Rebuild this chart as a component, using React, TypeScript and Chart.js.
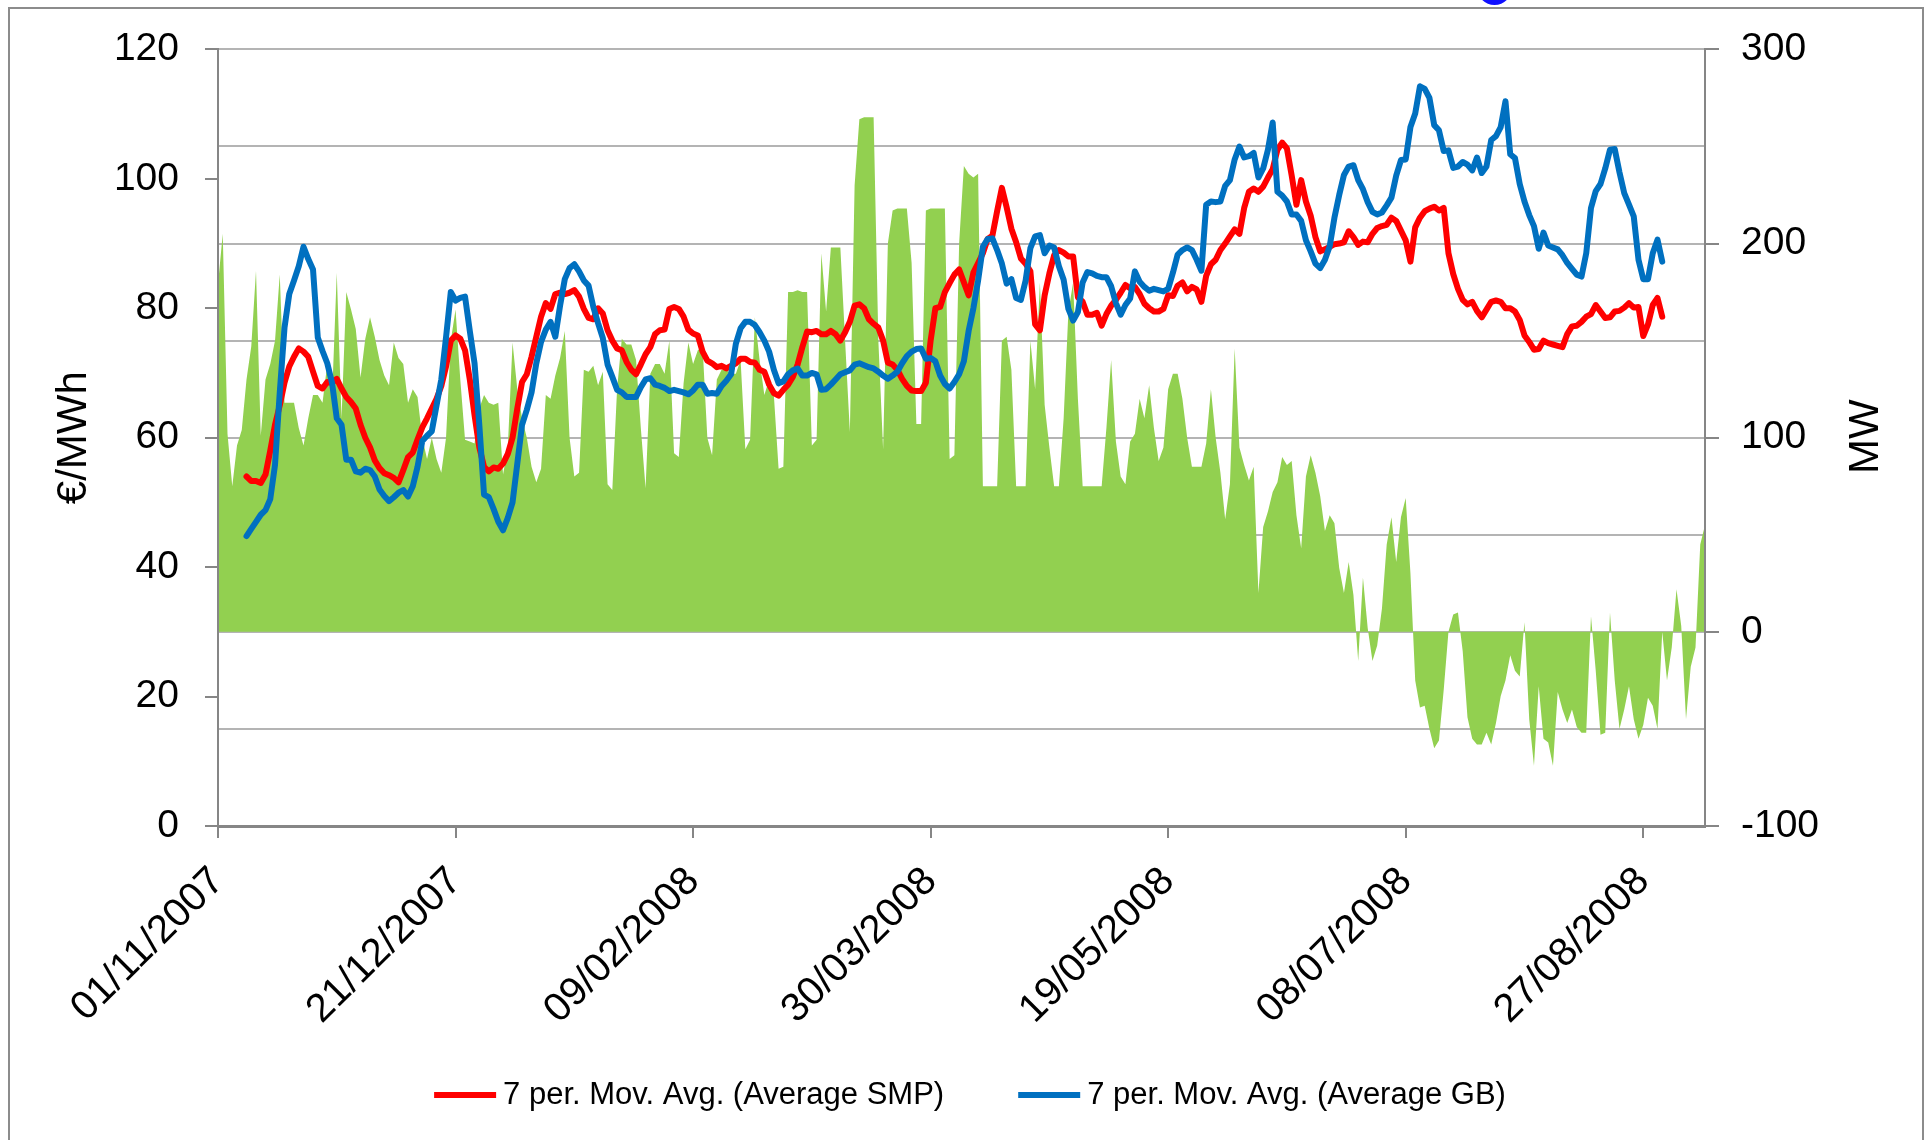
import { useEffect, useRef } from 'react';
import { Chart, registerables } from 'chart.js';

Chart.register(...registerables);

// ---------- data ----------
const startDateUTC = Date.UTC(2007, 10, 1); // 01/11/2007 = day 0
const xTickDays = [0, 50, 100, 150, 200, 250, 300];
const xTickLabels = ['01/11/2007', '21/12/2007', '09/02/2008', '30/03/2008', '19/05/2008', '08/07/2008', '27/08/2008'];
const lastDay = 313;
const lineStartDay = 6;

const leftAxisTitle = '€/MWh';
const rightAxisTitle = 'MW';
const smpLabel = '7 per. Mov. Avg. (Average SMP)';
const gbLabel = '7 per. Mov. Avg. (Average GB)';

// daily interconnector flow, MW (day 0 .. 313)
const flowMW = [
  179, 205, 102, 75, 96, 104, 130, 147, 186, 101, 130, 138, 150, 184, 118, 118, 118, 105, 96, 110,
  122, 122, 118, 138, 120, 185, 110, 175, 166, 156, 131, 151, 162, 152, 140, 132, 127, 149, 141, 138,
  118, 125, 121, 100, 89, 100, 89, 82, 100, 150, 166, 130, 99, 98, 97, 115, 122, 118, 117, 118,
  81, 95, 149, 125, 110, 100, 85, 77, 84, 122, 120, 132, 141, 155, 100, 80, 82, 135, 134, 137,
  127, 134, 76, 73, 125, 151, 148, 148, 140, 105, 74, 133, 138, 138, 133, 150, 92, 90, 128, 149,
  138, 145, 147, 100, 91, 130, 135, 135, 133, 133, 140, 94, 99, 162, 140, 122, 130, 122, 84, 85,
  175, 175, 176, 175, 175, 96, 99, 195, 165, 198, 198, 198, 150, 103, 230, 264, 265, 265, 265, 150,
  94, 200, 217, 218, 218, 218, 190, 107, 107, 217, 218, 218, 218, 218, 89, 91, 200, 240, 236, 234,
  236, 75, 75, 75, 75, 150, 152, 135, 75, 75, 75, 150, 125, 180, 117, 95, 75, 75, 110, 165,
  180, 120, 75, 75, 75, 75, 75, 105, 140, 98, 80, 76, 98, 102, 120, 110, 127, 105, 88, 95,
  125, 133, 133, 120, 100, 85, 85, 85, 97, 125, 100, 82, 58, 76, 146, 95, 86, 78, 85, 20,
  54, 62, 72, 77, 90, 86, 88, 60, 43, 80, 91, 82, 70, 52, 60, 56, 33, 20, 36, 19,
  -15, 28, 2, -15, -7, 12, 45, 59, 36, 59, 69, 30, -25, -39, -38, -50, -60, -56, -30, 0,
  9, 10, -10, -44, -55, -58, -58, -52, -58, -47, -33, -25, -12, -20, -23, 5, -45, -69, -28, -55,
  -57, -69, -31, -40, -47, -40, -49, -52, -52, 8, -20, -53, -52, 10, -25, -50, -40, -28, -45, -55,
  -48, -34, -38, -50, 0, -25, -8, 22, 3, -45, -18, -8, 45, 55,
];

// 7 per. moving average of SMP, €/MWh (day 6 .. 304)
const smpAvg = [
  54, 53.3, 53.3, 53, 54.3, 58, 62, 65, 68.5, 71, 72.5, 73.8, 73.3, 72.5, 70.2, 68, 67.6, 68.6, 68.5, 69.1,
  67.6, 66.3, 65.5, 64.5, 62, 60, 58.5, 56.5, 55.3, 54.5, 54.2, 53.8, 53.1, 55, 57, 57.7, 59.7, 61.6, 63, 64.5,
  66, 68, 71, 75, 75.8, 75.3, 73.5, 69, 63.5, 58.5, 55.5, 54.8, 55.4, 55.2, 56, 57.5, 60, 64.5, 68.6, 69.8,
  72.5, 75.6, 78.7, 80.8, 79.9, 82.2, 82.4, 82.2, 82.4, 82.8, 81.8, 79.9, 78.5, 78.3, 80, 79.2, 76.6, 75, 73.8, 73.5,
  71.7, 70.5, 69.8, 71.3, 72.9, 74, 76, 76.6, 76.7, 79.9, 80.2, 79.9, 78.7, 76.7, 76.1, 75.8, 73.3, 71.9, 71.5, 70.9,
  71.1, 70.7, 71.1, 71.5, 72.2, 72.2, 71.7, 71.6, 70.5, 70.2, 68.2, 66.9, 66.5, 67.4, 68.2, 69.4, 71.3, 74, 76.4, 76.3,
  76.5, 76, 76, 76.5, 76, 75, 76.3, 77.9, 80.4, 80.6, 80, 78.3, 77.6, 77, 75, 71.6, 71.3, 70.5, 69.1, 68,
  67.3, 67.2, 67.2, 68.5, 75, 80, 80.2, 82.5, 83.9, 85.2, 86, 84, 82, 85.5, 87, 88.5, 90.7, 91.2, 95, 98.6,
  95.6, 92.3, 90.2, 87.7, 86.9, 85.7, 77.5, 76.6, 82, 85.4, 88.2, 89, 88.6, 88, 88, 81.7, 81, 79, 79, 79.3,
  77.3, 79.1, 80.4, 81.3, 82.4, 83.6, 83.1, 83.3, 82.2, 80.7, 80, 79.5, 79.5, 79.9, 82, 81.9, 83.5, 84, 82.6, 83.3,
  82.9, 81, 85, 86.8, 87.5, 89, 90, 91.1, 92.2, 91.5, 95.5, 98, 98.5, 98, 98.8, 100.2, 101.5, 104.5, 105.6, 104.7,
  100.5, 96, 99.8, 96.5, 94.3, 91, 88.8, 89.1, 89.5, 89.9, 90, 90.2, 91.9, 91, 89.8, 90.3, 90.2, 91.5, 92.4, 92.7,
  92.9, 94, 93.5, 92, 90.5, 87.2, 92.5, 94, 95, 95.4, 95.7, 95.1, 95.5, 88.5, 85.3, 83, 81.3, 80.6, 81, 79.6,
  78.6, 79.8, 81, 81.2, 81, 80, 80, 79.5, 78.2, 75.8, 74.8, 73.6, 73.7, 75, 74.6, 74.4, 74.2, 74, 76, 77.2,
  77.3, 77.9, 78.7, 79.1, 80.5, 79.5, 78.5, 78.6, 79.5, 79.6, 80.1, 80.8, 80.1, 80.2, 75.7, 77.5, 80.5, 81.6, 78.7,
];

// 7 per. moving average of GB price, €/MWh (day 6 .. 304)
const gbAvg = [
  44.8, 45.9, 47, 48.1, 48.8, 50.5, 55.8, 67, 77, 82.2, 84.3, 86.5, 89.5, 87.6, 86, 75.5, 73.4, 71.5, 68.5, 63,
  62, 56.6, 56.6, 54.8, 54.6, 55.2, 55, 54, 52, 51, 50.2, 50.8, 51.5, 51.9, 50.9, 52.5, 55.5, 59.5, 60.3, 61,
  65, 69, 75.5, 82.5, 81.2, 81.6, 81.8, 76.5, 71.5, 62, 51.2, 50.8, 49, 47, 45.7, 47.6, 50, 56, 62, 64.3,
  67, 71.5, 74.8, 76.7, 77.9, 75.6, 80.4, 84.5, 86.2, 86.8, 85.7, 84.3, 83.5, 80.2, 77.7, 75.4, 71.3, 69.4, 67.4, 67,
  66.3, 66.3, 66.3, 67.8, 69, 69.2, 68.2, 68, 67.7, 67.2, 67.4, 67.2, 67, 66.7, 67.3, 68.2, 68.2, 66.8, 66.9, 66.8,
  68, 68.8, 69.8, 74.5, 76.9, 77.9, 77.9, 77.4, 76.3, 75, 73.3, 70.5, 68.4, 68.7, 69.8, 70.4, 70.7, 69.6, 69.6, 70,
  69.8, 67.4, 67.5, 68.2, 69, 69.8, 70.1, 70.4, 71.3, 71.5, 71.2, 70.9, 70.7, 70.2, 69.6, 69.1, 69.6, 70.2, 71.5, 72.6,
  73.3, 73.7, 73.8, 72.2, 72.3, 71.8, 69.6, 68.3, 67.6, 68.6, 69.8, 71.8, 76.5, 80, 84.3, 89.5, 90.7, 90.8, 89, 86.9,
  83.8, 84.5, 81.6, 81.3, 84.3, 89.3, 91.1, 91.3, 88.5, 89.7, 89.4, 86.5, 84.4, 79.9, 78.1, 79.4, 84, 85.6, 85.4, 85,
  84.8, 84.8, 83.4, 80.8, 79, 80.5, 81.5, 85.7, 84.1, 83.3, 82.7, 83, 82.8, 82.6, 83, 85.5, 88.3, 89, 89.4, 89,
  87.5, 85.8, 96, 96.5, 96.4, 96.5, 98.9, 99.8, 103, 105, 103.3, 103.5, 104, 100.2, 101.6, 104.5, 108.7, 98, 97.4, 96.5,
  94.5, 94.5, 93.5, 90.5, 88.8, 86.9, 86.2, 87.5, 89.6, 94, 97.5, 100.6, 101.9, 102.1, 99.8, 98.4, 96.4, 94.9, 94.5, 94.8,
  95.9, 97.1, 100.5, 102.9, 103, 108, 110.1, 114.3, 113.9, 112.5, 108.3, 107.5, 104.3, 104.4, 101.7, 101.9, 102.6, 102.2, 101.3, 103.3,
  100.9, 101.9, 106, 106.6, 108, 112, 103.8, 103.2, 99.2, 96.5, 94.4, 92.7, 89.2, 91.7, 89.7, 89.4, 89.1, 88.2, 87, 86.1,
  85.2, 84.9, 88.5, 95.5, 98.1, 99.2, 101.6, 104.5, 104.6, 101, 97.8, 96, 94.2, 87.5, 84.5, 84.5, 88.5, 90.6, 87.2,
];

// ---------- style ----------
const FONT = "'Liberation Sans', Arial, sans-serif";
const AXIS_GRAY = '#868686';
const GRID_GRAY = '#b4b4b4';
const GREEN = '#92d050';
const RED = '#ff0000';
const BLUE = '#0070c0';

const W = 1930;
const H = 1140;

function dayLabel(v: number): string {
  const idx = xTickDays.indexOf(v);
  if (idx >= 0) return xTickLabels[idx];
  const d = new Date(startDateUTC + v * 86400000);
  const dd = String(d.getUTCDate()).padStart(2, '0');
  const mm = String(d.getUTCMonth() + 1).padStart(2, '0');
  return `${dd}/${mm}/${d.getUTCFullYear()}`;
}

const decorPlugin = {
  id: 'decor',
  afterDraw(chart: any) {
    const ctx = chart.ctx as CanvasRenderingContext2D;
    const area = chart.chartArea;
    ctx.save();
    ctx.fillStyle = '#000';
    ctx.textAlign = 'center';
    ctx.textBaseline = 'middle';

    // axis titles (rotated, reading bottom to top)
    ctx.font = `42px ${FONT}`;
    ctx.save();
    ctx.translate(74, (area.top + area.bottom) / 2);
    ctx.rotate(-Math.PI / 2);
    ctx.fillText(leftAxisTitle, 0, 0);
    ctx.restore();

    ctx.save();
    ctx.translate(1866, (area.top + area.bottom) / 2 - 1);
    ctx.rotate(-Math.PI / 2);
    ctx.fillText(rightAxisTitle, 0, 0);
    ctx.restore();

    // legend
    ctx.font = `31px ${FONT}`;
    ctx.textAlign = 'left';
    const items = [
      { text: smpLabel, color: RED },
      { text: gbLabel, color: BLUE },
    ];
    const lineLen = 62;
    const gapAfterLine = 7;
    const gapBetween = 74;
    const widths = items.map((it) => ctx.measureText(it.text).width);
    const total = items.length * (lineLen + gapAfterLine) + widths.reduce((a, b) => a + b, 0) + gapBetween * (items.length - 1);
    let x = 970 - total / 2;
    const y = 1095;
    items.forEach((it, i) => {
      ctx.strokeStyle = it.color;
      ctx.lineWidth = 6;
      ctx.beginPath();
      ctx.moveTo(x, y);
      ctx.lineTo(x + lineLen, y);
      ctx.stroke();
      x += lineLen + gapAfterLine;
      ctx.fillText(it.text, x, y);
      x += widths[i] + gapBetween;
    });
    ctx.restore();
  },
};

function ChartCanvas() {
  const ref = useRef<HTMLCanvasElement | null>(null);

  useEffect(() => {
    const canvas = ref.current;
    if (!canvas) return;

    const flowData = flowMW.map((v, i) => ({ x: i, y: v }));
    const smpData = smpAvg.map((v, i) => ({ x: i + lineStartDay, y: v }));
    const gbData = gbAvg.map((v, i) => ({ x: i + lineStartDay, y: v }));

    const chart = new Chart(canvas, {
      type: 'line',
      data: {
        datasets: [
          {
            label: 'Flow (MW)',
            data: flowData,
            yAxisID: 'y1',
            borderWidth: 0,
            borderColor: GREEN,
            backgroundColor: GREEN,
            fill: 'origin',
            pointRadius: 0,
            tension: 0,
            order: 3,
          },
          {
            label: smpLabel,
            data: smpData,
            yAxisID: 'y',
            borderColor: RED,
            backgroundColor: RED,
            borderWidth: 6,
            borderJoinStyle: 'round',
            borderCapStyle: 'round',
            fill: false,
            pointRadius: 0,
            tension: 0,
            order: 2,
          },
          {
            label: gbLabel,
            data: gbData,
            yAxisID: 'y',
            borderColor: BLUE,
            backgroundColor: BLUE,
            borderWidth: 6,
            borderJoinStyle: 'round',
            borderCapStyle: 'round',
            fill: false,
            pointRadius: 0,
            tension: 0,
            order: 1,
          },
        ],
      },
      options: {
        animation: false,
        responsive: false,
        maintainAspectRatio: false,
        events: [],
        layout: { padding: { left: 0, right: 0, top: 47, bottom: 0 } },
        plugins: {
          legend: { display: false },
          tooltip: { enabled: false },
        },
        scales: {
          x: {
            type: 'linear',
            position: 'bottom',
            min: 0,
            max: lastDay,
            afterBuildTicks: (s: any) => {
              s.ticks = xTickDays.map((v) => ({ value: v }));
            },
            afterFit: (s: any) => {
              s.height = H - 826;
            },
            grid: {
              drawOnChartArea: false,
              drawTicks: true,
              tickLength: 12,
              color: AXIS_GRAY,
              lineWidth: 2,
            },
            border: { color: AXIS_GRAY, width: 3, z: 1 },
            ticks: {
              autoSkip: false,
              maxRotation: 45,
              minRotation: 45,
              padding: 20,
              color: '#000',
              font: { family: FONT, size: 40 },
              callback: (v: any) => dayLabel(Number(v)),
            },
          },
          y: {
            position: 'left',
            min: 0,
            max: 120,
            afterFit: (s: any) => {
              s.width = 218;
            },
            grid: {
              drawOnChartArea: false,
              drawTicks: true,
              tickLength: 13,
              color: AXIS_GRAY,
              lineWidth: 2,
            },
            border: { color: AXIS_GRAY, width: 2, z: 1 },
            ticks: {
              stepSize: 20,
              padding: 26,
              color: '#000',
              font: { family: FONT, size: 39 },
            },
          },
          y1: {
            position: 'right',
            min: -100,
            max: 300,
            afterFit: (s: any) => {
              s.width = W - 1705;
            },
            grid: {
              drawOnChartArea: true,
              drawTicks: true,
              tickLength: 14,
              color: GRID_GRAY,
              lineWidth: 2,
              tickColor: (c: any) => (c.tick && c.tick.value % 100 === 0 ? AXIS_GRAY : 'rgba(0,0,0,0)'),
            },
            border: { color: AXIS_GRAY, width: 2, z: 1 },
            ticks: {
              stepSize: 50,
              padding: 22,
              color: '#000',
              font: { family: FONT, size: 39 },
              callback: (v: any) => (Number(v) % 100 === 0 ? String(v) : ''),
            },
          },
        },
      },
      plugins: [decorPlugin],
    } as any);

    return () => {
      chart.destroy();
    };
  }, []);

  return <canvas ref={ref} width={W} height={H} style={{ position: 'absolute', left: 0, top: 0, width: W, height: H }} />;
}

export default function App() {
  return (
    <div style={{ position: 'fixed', left: 0, top: 0, width: W, height: H, overflow: 'hidden', background: '#fff' }}>
      <div
        style={{
          position: 'absolute',
          left: 8,
          top: 7,
          width: 1916,
          height: 1250,
          border: '2px solid #8c8c8c',
          boxSizing: 'border-box',
        }}
      />
      <div
        style={{
          position: 'absolute',
          left: 1477,
          top: -30,
          width: 35,
          height: 35,
          borderRadius: '50%',
          background: '#1010ff',
        }}
      />
      <ChartCanvas />
    </div>
  );
}
